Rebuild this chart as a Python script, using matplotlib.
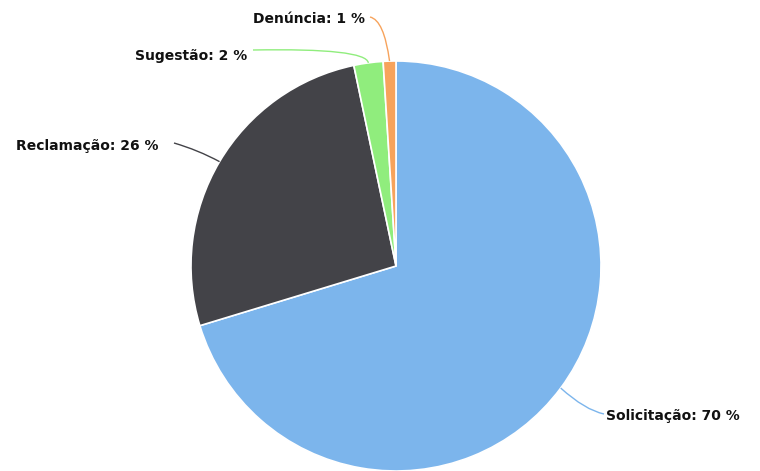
import numpy as np
import matplotlib
matplotlib.use("Agg")
import matplotlib.pyplot as plt
from matplotlib.path import Path
from matplotlib.patches import PathPatch

categories = ["Solicitação", "Reclamação", "Sugestão", "Denúncia"]
values = [70.3, 26.4, 2.3, 1.0]
colors = ["#7cb5ec", "#434348", "#90ed7d", "#f7a35c"]

W, H = 760, 471
fig = plt.figure(figsize=(W / 100, H / 100), dpi=100)
ax = fig.add_axes([0, 0, 1, 1])

cx, cy_pix, R = 396, 266, 205
cy = H - cy_pix
wedges, _ = ax.pie(values, colors=colors, startangle=90, counterclock=False,
                   center=(cx, cy), radius=R, frame=True,
                   wedgeprops=dict(edgecolor="white", linewidth=1.2))
ax.set_xlim(0, W)
ax.set_ylim(0, H)
ax.set_aspect("equal")
ax.axis("off")

# label layout (pixel coords, y downward): text anchor, connector start, control point
layout = {
    "Solicitação": dict(text=(606, 416), ha="left", start=(604, 414), ctrl=(585, 410)),
    "Reclamação": dict(text=(158, 146), ha="right", start=(174, 143), ctrl=(198, 150)),
    "Sugestão": dict(text=(247, 56), ha="right", start=(253, 50), ctrl=(366, 48)),
    "Denúncia": dict(text=(365, 19), ha="right", start=(370, 17), ctrl=(384, 20)),
}

total = sum(values)
cum = 0.0
for cat, v, col in zip(categories, values, colors):
    mid = (cum + v / 2) / total * 360.0
    cum += v
    th = np.deg2rad(mid)
    ex = cx + R * np.sin(th)
    ey = cy + R * np.cos(th)
    L = layout[cat]
    sx, sy = L["start"][0], H - L["start"][1]
    qx, qy = L["ctrl"][0], H - L["ctrl"][1]
    path = Path([(sx, sy), (qx, qy), (ex, ey)], [Path.MOVETO, Path.CURVE3, Path.CURVE3])
    ax.add_patch(PathPatch(path, facecolor="none", edgecolor=col, linewidth=1.0))
    tx, ty = L["text"][0], H - L["text"][1]
    ax.text(tx, ty, f"{cat}: {round(v)} %", ha=L["ha"], va="center",
            fontsize=10, fontweight="bold", color="#111111", family="DejaVu Sans")

fig.savefig("out.png", dpi=100, facecolor="white")
